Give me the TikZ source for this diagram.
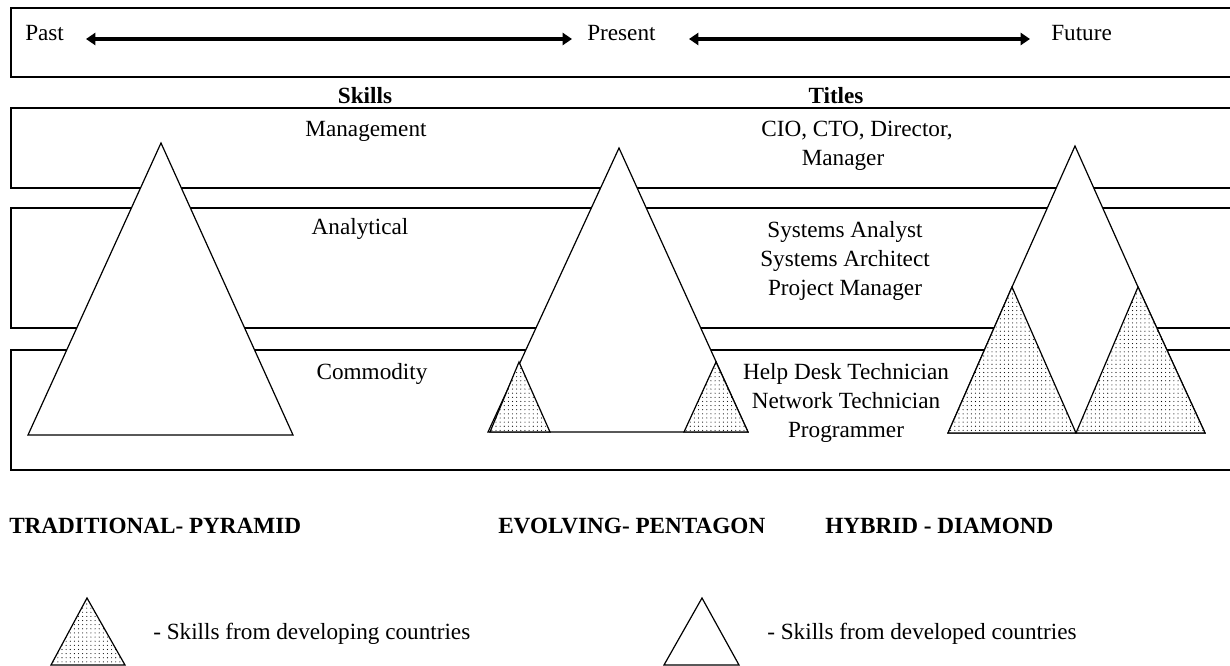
\documentclass[tikz,border=0pt]{standalone}
\usepackage{fontspec}
\setmainfont{Liberation Serif}
\usetikzlibrary{patterns.meta,arrows.meta}
\tikzset{
  band/.style={line width=1.4pt, draw=black},
  tri/.style={draw=black, line width=0.9pt, fill=white, line join=miter},
  shaded/.style={draw=black, line width=0.9pt, preaction={fill=white}, pattern={Dots[distance=3.1pt, radius=0.42pt]}, line join=miter},
  lbl/.style={font=\fontsize{17.4}{21.8}\selectfont, inner sep=0pt, align=center},
  head/.style={font=\bfseries\fontsize{17.4}{21.8}\selectfont, inner sep=0pt},
  bigarrow/.style={line width=2.4pt, {Triangle[length=7pt,width=9pt]}-{Triangle[length=7pt,width=9pt]}},
}
\begin{document}
\begin{tikzpicture}[x=0.75pt,y=-0.75pt]
\useasboundingbox (0,0) rectangle (1230,666);
\clip (0,0) rectangle (1230,666);
% boxes (open on the right)
\draw[band] (1240,8) -- (11,8) -- (11,77) -- (1240,77);
\draw[band] (1240,108) -- (11,108) -- (11,188) -- (1240,188);
\draw[band] (1240,208) -- (11,208) -- (11,328) -- (1240,328);
\draw[band] (1240,350) -- (11,350) -- (11,470) -- (1240,470);
% timeline
\node[lbl, anchor=west] (past) at (25,33) {Past};
\node[lbl, anchor=west] (present) at (587,33) {Present};
\node[lbl, anchor=west] (future) at (1051,33) {Future};
\coordinate (a1s) at (86,39);
\coordinate (a1e) at (572,39);
\coordinate (a2s) at (689,39);
\coordinate (a2e) at (1030,39);
\draw[bigarrow] (a1s) -- (a1e);
\draw[bigarrow] (a2s) -- (a2e);
% headings
\node[head] (skills) at (365,96) {Skills};
\node[head] (titles) at (836,96) {Titles};
% pyramid
\draw[tri] (161,143) -- (28,435) -- (293,435) -- cycle;
% pentagon
\draw[tri] (619,148) -- (488,432) -- (748,432) -- cycle;
\draw[shaded] (519,362) -- (490,432) -- (550,432) -- cycle;
\draw[shaded] (716,362) -- (684,432) -- (748,432) -- cycle;
% diamond
\draw[tri] (1075,146) -- (1012,287) -- (948,433) -- (1205,433) -- (1138,287) -- cycle;
\draw[shaded] (1012,287) -- (948,433) -- (1076,433) -- cycle;
\draw[shaded] (1138,287) -- (1076,433) -- (1205,433) -- cycle;
% band texts
\node[lbl] (mgmt) at (366,131) {Management};
\node[lbl] (mgmtt1) at (857,131) {CIO, CTO, Director,};
\node[lbl] (mgmtt2) at (843,160) {Manager};
\node[lbl] (anal) at (360,229) {Analytical};
\node[lbl, anchor=north] (analt) at (845,221) {Systems Analyst\\Systems Architect\\Project Manager};
\node[lbl] (comm) at (372,374) {Commodity};
\node[lbl, anchor=north] (commt) at (846,363) {Help Desk Technician\\Network Technician\\Programmer};
% bottom labels
\node[head, anchor=west] (trad) at (9,526) {TRADITIONAL- PYRAMID};
\node[head, anchor=west] (evol) at (498,526) {EVOLVING- PENTAGON};
\node[head, anchor=west] (hyb) at (825,526) {HYBRID - DIAMOND};
% legend
\draw[shaded] (87,598) -- (51,665) -- (125,665) -- cycle;
\node[lbl, anchor=west] (leg1) at (153,634) {- Skills from developing countries};
\draw[tri] (702,598) -- (664,665) -- (739,665) -- cycle;
\node[lbl, anchor=west] (leg2) at (767,634) {- Skills from developed countries};
\end{tikzpicture}
\end{document}
